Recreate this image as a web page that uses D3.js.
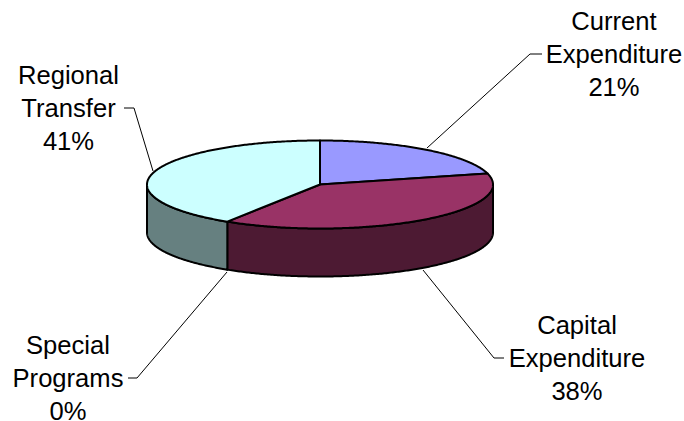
<!DOCTYPE html>
<html>
<head>
<meta charset="utf-8">
<script src="https://cdn.jsdelivr.net/npm/d3@7"></script>
<style>
  html, body { margin: 0; background: #fff; }
  svg { display: block; }
  text { font-family: "Liberation Sans", Arial, sans-serif; font-size: 25.6px; fill: #000; }
</style>
</head>
<body>
<svg id="chart" width="684" height="421"></svg>
<script>
const categories = ["Current Expenditure", "Capital Expenditure", "Special Programs", "Regional Transfer"];
const shares = [21, 38, 0, 41];
const topColors = ["#9999ff", "#993366", "#669999", "#ccffff"];
const sideColors = ["#4d4d80", "#4d1a33", "#334d4d", "#668080"];
const labelLines = [["Current", "Expenditure", "21%"], ["Capital", "Expenditure", "38%"], ["Special", "Programs", "0%"], ["Regional", "Transfer", "41%"]];

// label block centre x, first baseline y, and leader polyline for each slice
const labelPos = [
    { x: 614, y: 30, leader: [[427, 148], [530, 54], [542, 54]] },
    { x: 577, y: 334, leader: [[423, 270], [494, 358], [504, 358]] },
    { x: 68, y: 354, leader: [[227, 272], [137, 378], [128, 378]] },
    { x: 68.5, y: 84, leader: [[153, 171], [134, 108], [124, 108]] }
];
const lineGap = 33;

const cx = 320, cy = 184.5, rx = 173, ry = 44, depth = 48;

const svg = d3.select("#chart");

// pie angles, flattened onto the tilted ellipse
const x = d3.scaleLinear().domain([-1, 1]).range([cx - rx, cx + rx]);
const y = d3.scaleLinear().domain([-1, 1]).range([cy - ry, cy + ry]);
const arcs = d3.pie().sort(null).value(d => d)(shares);

function rim(a0, a1, dy = 0) {
    const n = Math.max(2, Math.ceil((a1 - a0) / 0.01));
    return d3.range(n + 1).map(i => {
        const a = a0 + (a1 - a0) * i / n;
        return [x(Math.sin(a)), y(-Math.cos(a)) + dy];
    });
}

const line = d3.line();

// side wall: only the front half of the rim shows
const sides = svg.append("g");
arcs.forEach((d, i) => {
    const a0 = Math.max(d.startAngle, Math.PI / 2);
    const a1 = Math.min(d.endAngle, Math.PI * 1.5);
    if (a1 <= a0) return;
    const pts = rim(a0, a1).concat(rim(a0, a1, depth).reverse());
    sides.append("path")
        .attr("d", line(pts) + "Z")
        .attr("fill", sideColors[i])
        .attr("stroke", "#000")
        .attr("stroke-width", 2)
        .attr("stroke-linejoin", "round");
});

// top faces
const tops = svg.append("g");
arcs.forEach((d, i) => {
    if (d.endAngle <= d.startAngle) return;
    const pts = [[x(0), y(0)]].concat(rim(d.startAngle, d.endAngle));
    tops.append("path")
        .attr("d", line(pts) + "Z")
        .attr("fill", topColors[i])
        .attr("stroke", "#000")
        .attr("stroke-width", 2)
        .attr("stroke-linejoin", "round");
});

// leaders and labels
labelPos.forEach((p, i) => {
    svg.append("path")
        .attr("d", line(p.leader))
        .attr("fill", "none")
        .attr("stroke", "#000")
        .attr("stroke-width", 1);
    const t = svg.append("text").attr("text-anchor", "middle");
    labelLines[i].forEach((s, j) => {
        t.append("tspan").attr("x", p.x).attr("y", p.y + j * lineGap).text(s);
    });
});
</script>
</body>
</html>
